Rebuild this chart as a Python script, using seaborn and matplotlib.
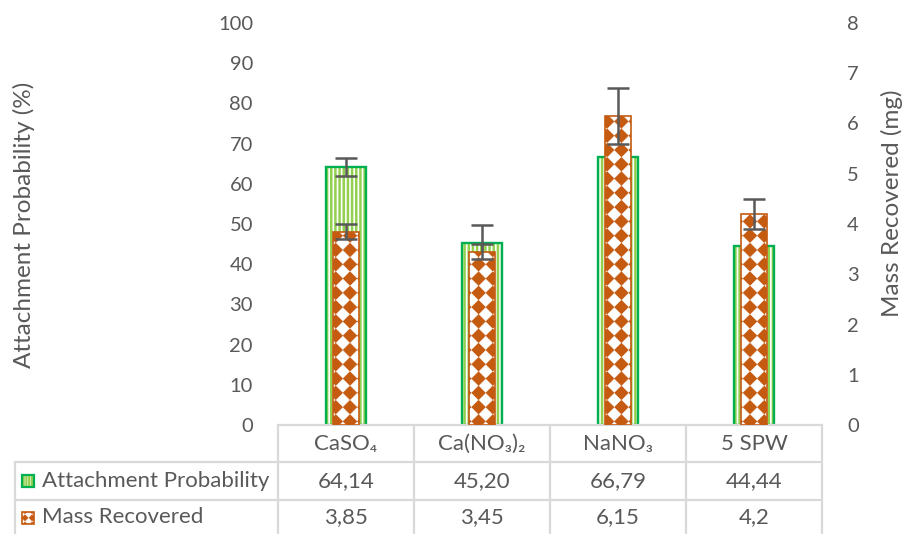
import numpy as np
import matplotlib
matplotlib.use("Agg")
import matplotlib.pyplot as plt
import matplotlib.transforms as mtransforms
import matplotlib.hatch as mhatch
from matplotlib.patches import Rectangle
from matplotlib.lines import Line2D
from matplotlib.path import Path
import pandas as pd
import seaborn as sns

# ---- data -------------------------------------------------------------
categories = ["CaSO₄", "Ca(NO₃)₂", "NaNO₃", "5 SPW"]
attachment = [64.14, 45.20, 66.79, 44.44]          # %
attachment_err = [2.3, 4.5, 3.0, 3.0]
mass = [3.85, 3.45, 6.15, 4.2]                     # mg
mass_err = [0.15, 0.15, 0.55, 0.30]
left_ticks = list(range(0, 101, 10))
right_ticks = list(range(0, 9))

# ---- style ------------------------------------------------------------
GREEN_EDGE = "#00B050"
GREEN_STRIPE = "#92D050"
ORANGE = "#C55A11"
TEXT = "#595959"
GRID = "#D9D9D9"
ERR = "#595959"


class DiamondTiles(mhatch.HatchPatternBase):
    """Filled diamond checkerboard, used for the '*' hatch code."""

    def __init__(self, hatch, density):
        self.n = hatch.count("*") * 7
        if self.n == 0:
            self.num_vertices = 0
        else:
            self.num_vertices = (self.n + 1) ** 2 * 5

    def set_vertices_and_codes(self, vertices, codes):
        n = self.n
        h = 0.47 / n
        shape = np.array([[0, -h], [h, 0], [0, h], [-h, 0], [0, -h]])
        centers = [(i / n, j / n) for i in range(n + 1) for j in range(n + 1)]
        vertices[:] = np.concatenate([shape + c for c in centers])
        one = [Path.MOVETO, Path.LINETO, Path.LINETO, Path.LINETO, Path.CLOSEPOLY]
        codes[:] = np.tile(one, len(centers))


mhatch._hatch_types = [t for t in mhatch._hatch_types
                       if t is not mhatch.Stars] + [DiamondTiles]

sns.set_theme(style="white")
plt.rcParams["font.family"] = ["Lato", "Noto Sans", "DejaVu Sans"]
plt.rcParams["hatch.linewidth"] = 1.6

W, H = 906, 534
fig = plt.figure(figsize=(W / 100, H / 100), dpi=100)
ax = fig.add_axes([278 / W, 1 - 425 / H, 544 / W, 402 / H])

df = pd.DataFrame({"category": categories, "attachment": attachment, "mass": mass})


def set_hatch_lw(patch, lw):
    if hasattr(patch, "set_hatch_linewidth"):
        patch.set_hatch_linewidth(lw)


# attachment probability bars (left axis)
sns.barplot(data=df, x="category", y="attachment", ax=ax, width=0.287,
            color="white", saturation=1, edgecolor=GREEN_STRIPE,
            linewidth=0, hatch="||||", zorder=1)
for p in list(ax.patches):
    set_hatch_lw(p, 1.8)
    ax.add_patch(Rectangle((p.get_x(), p.get_y()), p.get_width(), p.get_height(),
                           fill=False, edgecolor=GREEN_EDGE, linewidth=1.7, zorder=2))
ax.errorbar(range(len(categories)), attachment, yerr=attachment_err, fmt="none",
            ecolor=ERR, elinewidth=1.8, capsize=8, capthick=1.8, zorder=3)

ax.set_xlim(-0.5, len(categories) - 0.5)
ax.set_ylim(0, 100)
ax.set_yticks(left_ticks)
ax.set_xlabel("")
ax.set_ylabel("")
ax.tick_params(axis="x", length=0, labelbottom=False)
ax.tick_params(axis="y", length=0, pad=18, labelsize=14.5, labelcolor=TEXT)
for s in ["top", "left", "right"]:
    ax.spines[s].set_visible(False)
ax.spines["bottom"].set_color(GRID)
ax.spines["bottom"].set_linewidth(1.6)

# mass recovered bars (right axis)
ax2 = ax.twinx()
sns.barplot(data=df, x="category", y="mass", ax=ax2, width=0.184,
            color=ORANGE, saturation=1, edgecolor="white",
            linewidth=0, hatch="*", zorder=1)
for p in list(ax2.patches):
    set_hatch_lw(p, 0.3)
    ax2.add_patch(Rectangle((p.get_x(), p.get_y()), p.get_width(), p.get_height(),
                            fill=False, edgecolor=ORANGE, linewidth=1.2, zorder=2))
ax2.errorbar(range(len(categories)), mass, yerr=mass_err, fmt="none",
             ecolor=ERR, elinewidth=1.8, capsize=8, capthick=1.8, zorder=3)
ax2.set_xlim(-0.5, len(categories) - 0.5)
ax2.set_ylim(0, 8)
ax2.set_yticks(right_ticks)
ax2.set_xlabel("")
ax2.set_ylabel("")
ax2.tick_params(axis="y", length=0, pad=18, labelsize=14.5, labelcolor=TEXT)
for s in ax2.spines.values():
    s.set_visible(False)

# ---- axis titles --------------------------------------------------------
pix = mtransforms.Affine2D().scale(1 / W, -1 / H).translate(0, 1) + fig.transFigure
fig.text(24, 225, "Attachment Probability (%)", transform=pix, rotation=90,
         ha="center", va="center", fontsize=17.5, color=TEXT)
fig.text(892, 203, "Mass Recovered (mg)", transform=pix, rotation=90,
         ha="center", va="center", fontsize=17.5, color=TEXT)

# ---- data table below the plot -----------------------------------------
col_tr = mtransforms.blended_transform_factory(ax.transData, pix)
n = len(categories)
x_left_px, x_right_px = 15, 278 + 544
row_top, row1, row2, row_bot = 425, 462, 500, 534

for y in (row1, row2):
    fig.add_artist(Line2D([x_left_px, x_right_px], [y, y], transform=pix,
                          color=GRID, lw=1.6))
fig.add_artist(Line2D([x_left_px, x_left_px], [row1, row_bot], transform=pix,
                      color=GRID, lw=1.6))
for b in [i - 0.5 for i in range(n + 1)]:
    fig.add_artist(Line2D([b, b], [row_top, row_bot], transform=col_tr,
                          color=GRID, lw=1.6))

TABLE_FS = 16
for i, cat in enumerate(categories):
    fig.text(i, (row_top + row1) / 2, cat, transform=col_tr, ha="center",
             va="center", fontsize=TABLE_FS, color=TEXT)
    fig.text(i, (row1 + row2) / 2, f"{attachment[i]:.2f}".replace(".", ","),
             transform=col_tr, ha="center", va="center", fontsize=TABLE_FS, color=TEXT)
    fig.text(i, (row2 + row_bot) / 2, f"{mass[i]:g}".replace(".", ","),
             transform=col_tr, ha="center", va="center", fontsize=TABLE_FS, color=TEXT)

# legend keys in the row headers
k1 = Rectangle((22, 475), 12, 12, transform=pix, facecolor="white",
               edgecolor=GREEN_STRIPE, linewidth=0, hatch="||||||")
set_hatch_lw(k1, 1.6)
fig.add_artist(k1)
fig.add_artist(Rectangle((22, 475), 12, 12, transform=pix, fill=False,
                         edgecolor=GREEN_EDGE, linewidth=1.6))
k2 = Rectangle((22, 512), 12, 12, transform=pix, facecolor=ORANGE,
               edgecolor="white", linewidth=0, hatch="**")
set_hatch_lw(k2, 0.3)
fig.add_artist(k2)
fig.add_artist(Rectangle((22, 512), 12, 12, transform=pix, fill=False,
                         edgecolor=ORANGE, linewidth=1.2))
fig.text(42, (row1 + row2) / 2, "Attachment Probability", transform=pix,
         ha="left", va="center", fontsize=TABLE_FS, color=TEXT)
fig.text(42, (row2 + row_bot) / 2, "Mass Recovered", transform=pix,
         ha="left", va="center", fontsize=TABLE_FS, color=TEXT)

fig.savefig("out.png", dpi=100)
